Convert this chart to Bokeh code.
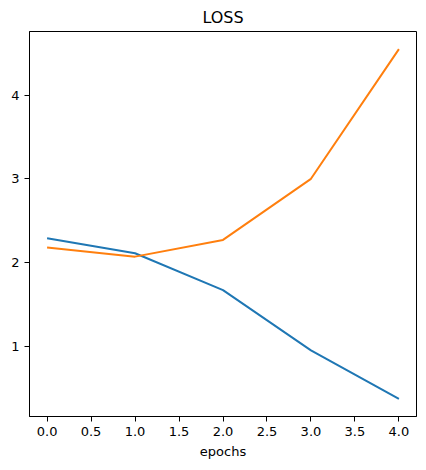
from bokeh.plotting import figure
from bokeh.embed import file_html
from bokeh.resources import INLINE
from bokeh.models import Range1d, FixedTicker, NumeralTickFormatter

epochs = [0, 1, 2, 3, 4]
loss_a = [2.29, 2.11, 1.67, 0.95, 0.37]
loss_b = [2.18, 2.07, 2.27, 3.00, 4.55]
x_ticks = [0.0, 0.5, 1.0, 1.5, 2.0, 2.5, 3.0, 3.5, 4.0]
y_ticks = [1, 2, 3, 4]

FONT = "DejaVu Sans"

p = figure(width=417, height=454, frame_width=387, frame_height=385,
           output_backend="svg", toolbar_location=None,
           title="LOSS",
           x_range=Range1d(-0.2, 4.2), y_range=Range1d(0.16, 4.76),
           min_border_left=29, min_border_right=1, min_border_top=4, min_border_bottom=4)

p.title.align = "center"
p.title.text_font = FONT
p.title.text_font_size = "16px"
p.title.text_font_style = "normal"
p.title.text_color = "black"

p.line(epochs, loss_a, line_color="#1f77b4", line_width=2)
p.line(epochs, loss_b, line_color="#ff7f0e", line_width=2)

p.xgrid.visible = False
p.ygrid.visible = False
p.outline_line_color = "black"
p.outline_line_width = 1
p.outline_line_alpha = 1

for ax in (p.xaxis[0], p.yaxis[0]):
    ax.axis_line_color = "black"
    ax.major_tick_line_color = "black"
    ax.major_tick_out = 5
    ax.major_tick_in = 0
    ax.minor_tick_line_color = None
    ax.major_label_text_font = FONT
    ax.major_label_text_font_size = "13px"
    ax.major_label_text_color = "black"
    ax.major_label_standoff = 5

p.xaxis.ticker = FixedTicker(ticks=x_ticks)
p.xaxis.formatter = NumeralTickFormatter(format="0.0")
p.yaxis.ticker = FixedTicker(ticks=y_ticks)
p.yaxis.formatter = NumeralTickFormatter(format="0")

p.xaxis.axis_label = "epochs"
p.xaxis.axis_label_text_font = FONT
p.xaxis.axis_label_text_font_size = "13px"
p.xaxis.axis_label_text_font_style = "normal"
p.xaxis.axis_label_text_color = "black"
p.xaxis.axis_label_standoff = 5

open("out.html", "w").write(file_html(p, INLINE))
